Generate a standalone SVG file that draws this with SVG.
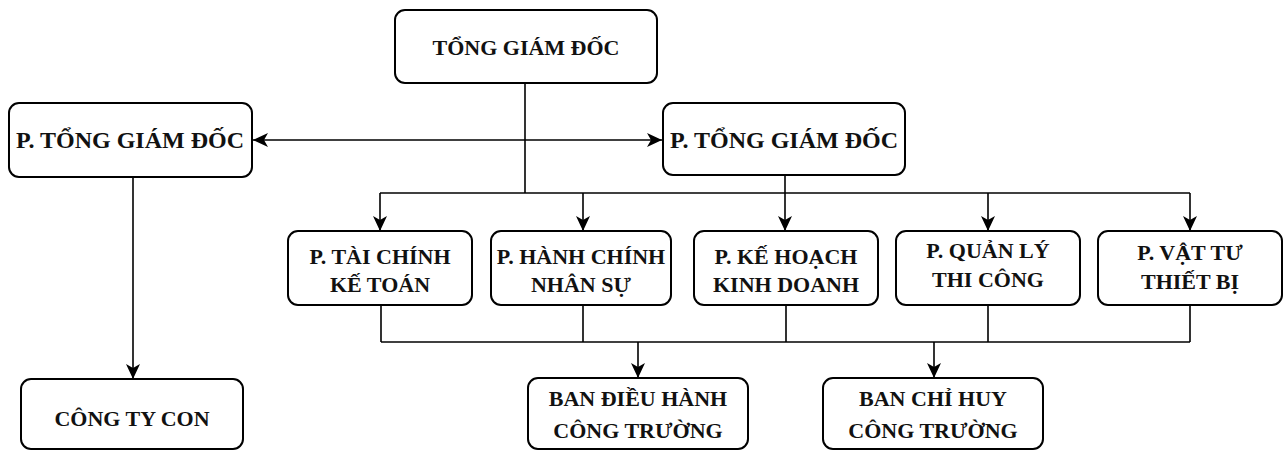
<svg xmlns="http://www.w3.org/2000/svg" width="1287" height="451" viewBox="0 0 1287 451">
<style>
.box{fill:#fff;stroke:#000;stroke-width:2}
.t{font-family:"Liberation Serif","Times New Roman",serif;font-weight:bold;font-size:22px;fill:#111;text-anchor:middle}
.b{font-size:24px}
.ln{fill:none;stroke:#000;stroke-width:1.6}
</style>
<defs>
<marker id="ar" markerUnits="userSpaceOnUse" markerWidth="16" markerHeight="16" viewBox="0 0 16 16" refX="15" refY="8" orient="auto">
<path d="M0,1 L15,8 L0,15 L4,8 z" fill="#000"/>
</marker>
<marker id="ars" markerUnits="userSpaceOnUse" markerWidth="16" markerHeight="16" viewBox="0 0 16 16" refX="15" refY="8" orient="auto-start-reverse">
<path d="M0,1 L15,8 L0,15 L4,8 z" fill="#000"/>
</marker>
</defs>
<g id="connectors">
<path class="ln" d="M525,83 V193"/>
<path class="ln" d="M380,193 H1190"/>
<path class="ln" d="M785,175 V193"/>
<path class="ln" d="M380,193 V231" marker-end="url(#ar)"/>
<path class="ln" d="M583,193 V231" marker-end="url(#ar)"/>
<path class="ln" d="M785,193 V231" marker-end="url(#ar)"/>
<path class="ln" d="M988,193 V231" marker-end="url(#ar)"/>
<path class="ln" d="M1190,193 V231" marker-end="url(#ar)"/>
<path class="ln" d="M253,140 H662" marker-start="url(#ars)" marker-end="url(#ar)"/>
<path class="ln" d="M133,177 V379" marker-end="url(#ar)"/>
<path class="ln" d="M381,305 V342 M583,305 V342 M786,305 V342 M988,305 V342 M1190,305 V342"/>
<path class="ln" d="M381,342 H1190"/>
<path class="ln" d="M638,342 V378" marker-end="url(#ar)"/>
<path class="ln" d="M934,342 V378" marker-end="url(#ar)"/>
</g>
<g id="tong-giam-doc">
<rect class="box" x="395" y="10" width="262" height="73" rx="10"/>
<text class="t" x="526" y="55">TỔNG GIÁM ĐỐC</text>
</g>
<g id="p-tgd-left">
<rect class="box" x="9" y="103" width="243" height="74" rx="10"/>
<text class="t b" x="130" y="148">P. TỔNG GIÁM ĐỐC</text>
</g>
<g id="p-tgd-right">
<rect class="box" x="663" y="103" width="242" height="72" rx="10"/>
<text class="t b" x="784" y="148">P. TỔNG GIÁM ĐỐC</text>
</g>
<g id="p-tckt">
<rect class="box" x="288" y="231" width="184" height="74" rx="10"/>
<text class="t" x="380" y="264">P. TÀI CHÍNH</text>
<text class="t" x="380" y="292">KẾ TOÁN</text>
</g>
<g id="p-hcns">
<rect class="box" x="491" y="231" width="180" height="74" rx="10"/>
<text class="t" x="581" y="264">P. HÀNH CHÍNH</text>
<text class="t" x="581" y="292">NHÂN SỰ</text>
</g>
<g id="p-khkd">
<rect class="box" x="694" y="231" width="184" height="74" rx="10"/>
<text class="t" x="786" y="264">P. KẾ HOẠCH</text>
<text class="t" x="786" y="292">KINH DOANH</text>
</g>
<g id="p-qltc">
<rect class="box" x="896" y="231" width="184" height="74" rx="10"/>
<text class="t" x="988" y="258">P. QUẢN LÝ</text>
<text class="t" x="988" y="287">THI CÔNG</text>
</g>
<g id="p-vttb">
<rect class="box" x="1098" y="231" width="184" height="74" rx="10"/>
<text class="t" x="1190" y="260">P. VẬT TƯ</text>
<text class="t" x="1190" y="289">THIẾT BỊ</text>
</g>
<g id="cong-ty-con">
<rect class="box" x="21" y="379" width="222" height="70" rx="10"/>
<text class="t" x="132" y="426">CÔNG TY CON</text>
</g>
<g id="ban-dieu-hanh">
<rect class="box" x="528" y="378" width="220" height="71" rx="10"/>
<text class="t" x="638" y="406">BAN ĐIỀU HÀNH</text>
<text class="t" x="638" y="438">CÔNG TRƯỜNG</text>
</g>
<g id="ban-chi-huy">
<rect class="box" x="823" y="378" width="220" height="71" rx="10"/>
<text class="t" x="933" y="406">BAN CHỈ HUY</text>
<text class="t" x="933" y="438">CÔNG TRƯỜNG</text>
</g>
</svg>
